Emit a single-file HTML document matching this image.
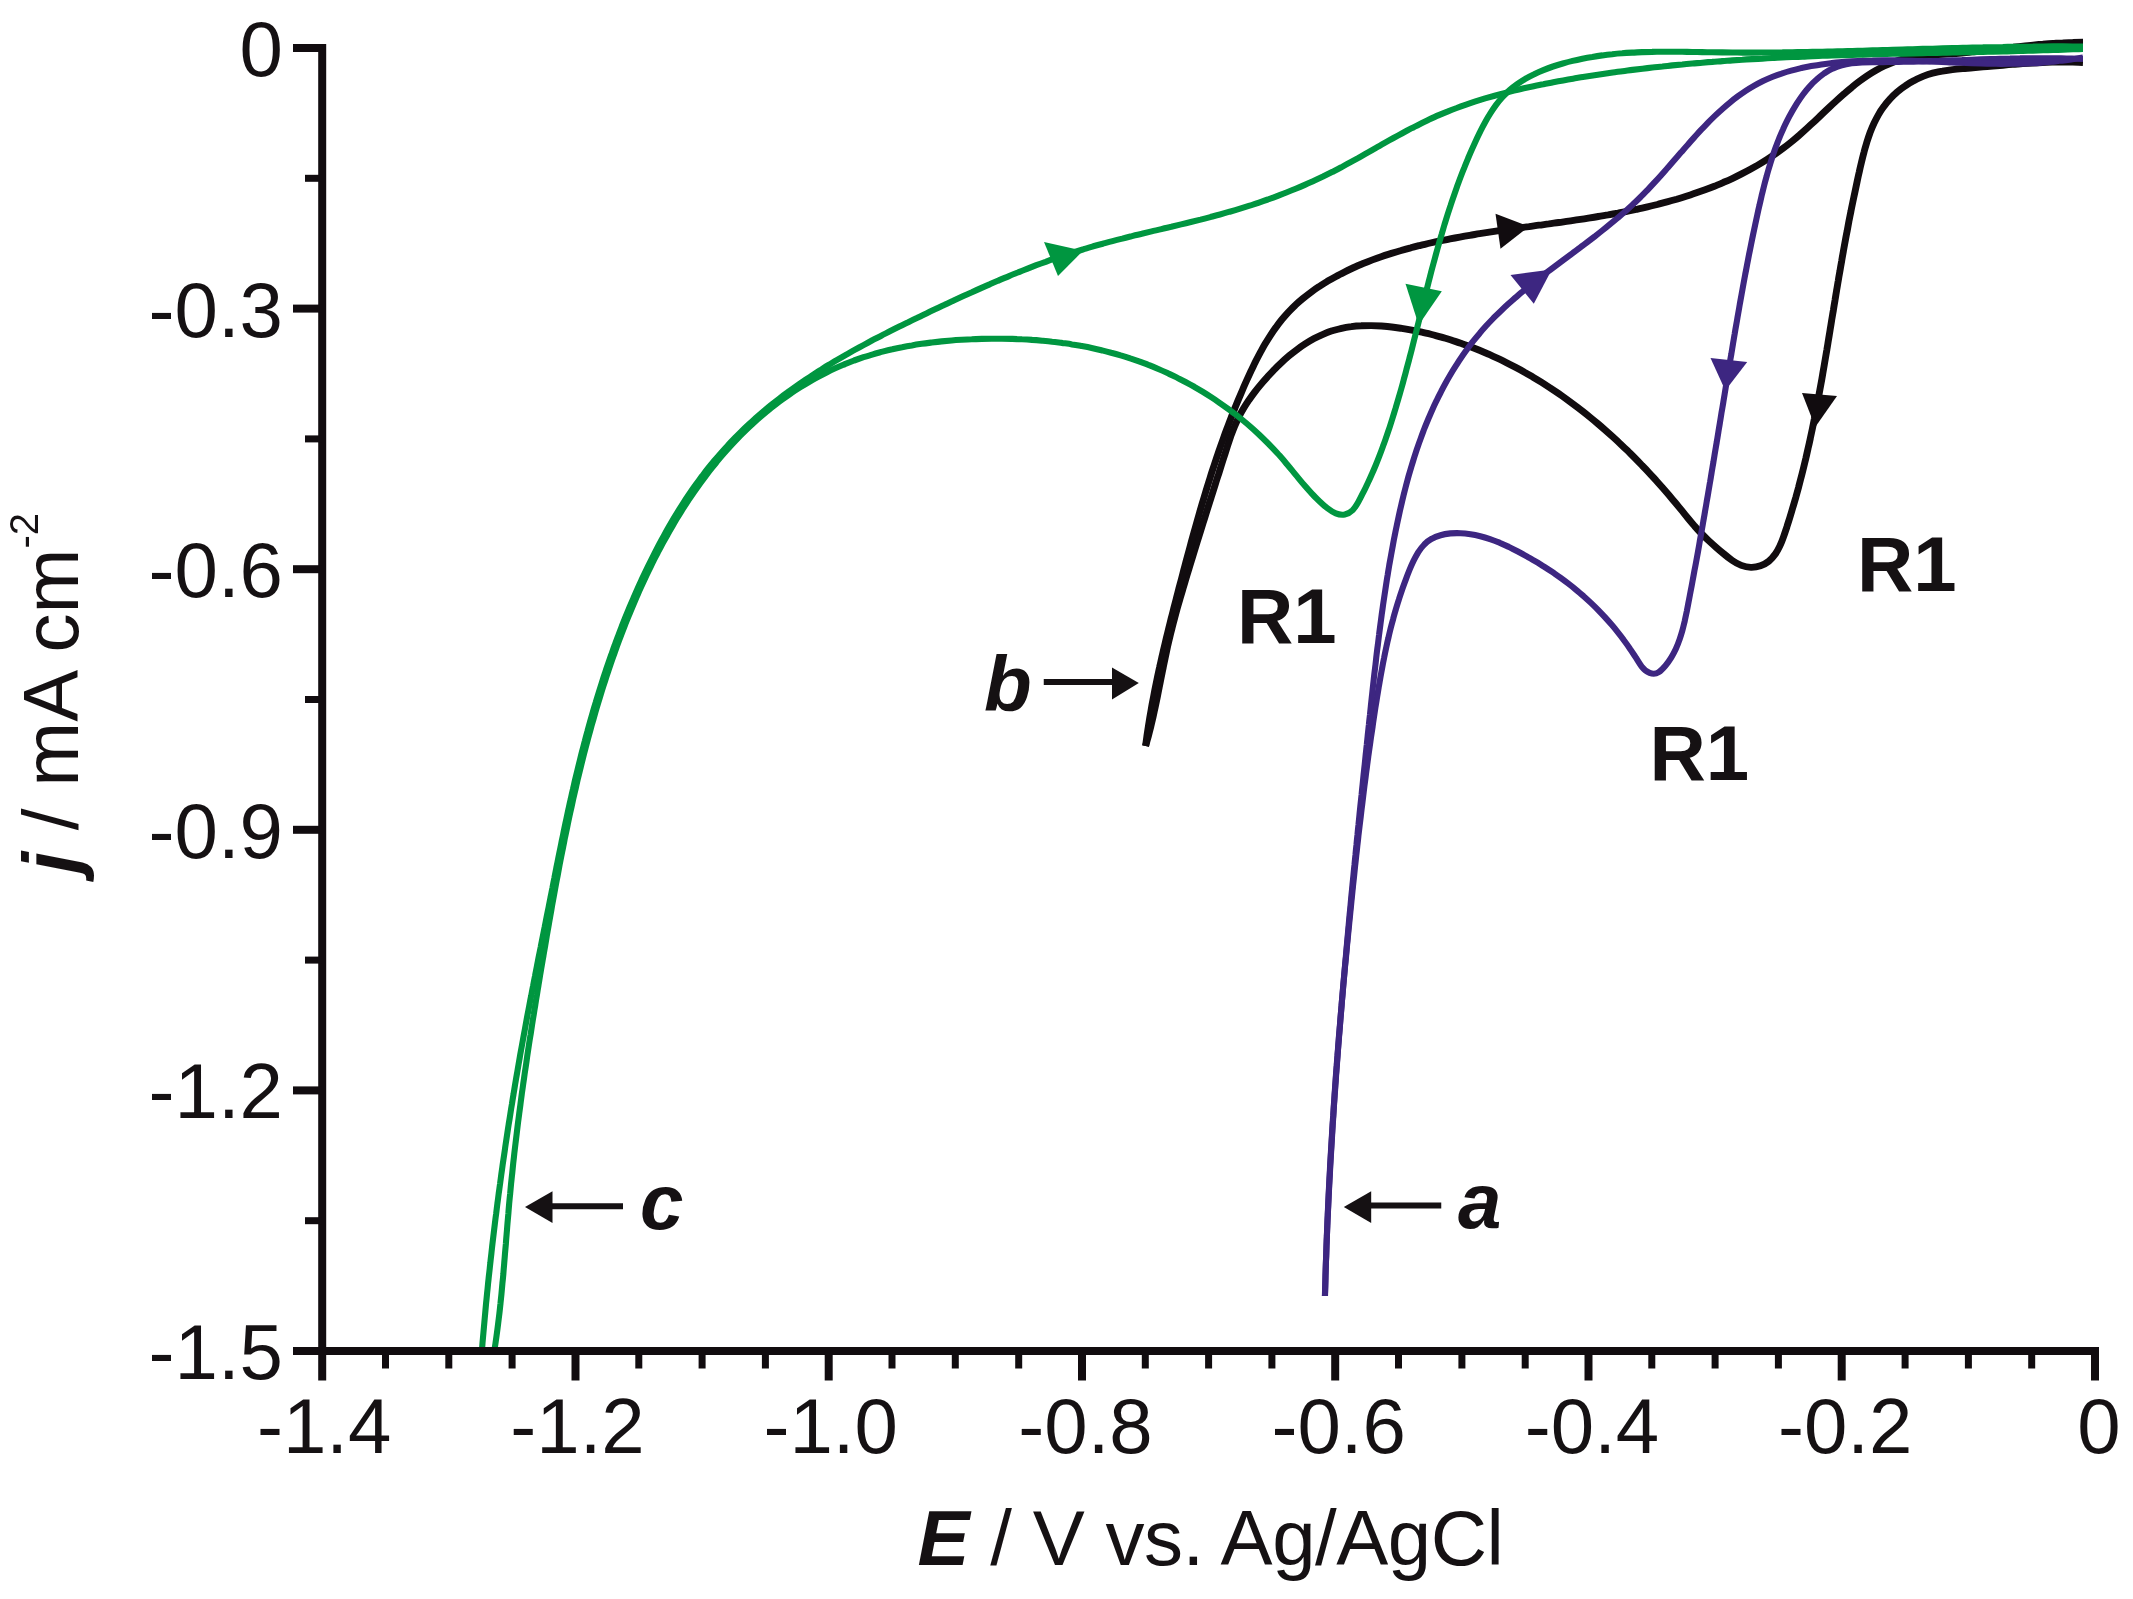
<!DOCTYPE html>
<html lang="en"><head><meta charset="utf-8"><title>Cyclic voltammograms</title>
<style>html,body{margin:0;padding:0;background:#fff}body{width:2133px;height:1599px;overflow:hidden}svg{display:block;filter:blur(0.7px)}text{font-family:"Liberation Sans",Arial,Helvetica,sans-serif;fill:#151113}.t{font-size:78px}.bi{font-weight:bold;font-style:italic}.b{font-weight:bold}</style></head><body>
<svg width="2133" height="1599" viewBox="0 0 2133 1599">
<rect width="2133" height="1599" fill="#fff"/>
<defs><clipPath id="cp"><rect x="322" y="0" width="1761" height="1351"/></clipPath></defs>
<g clip-path="url(#cp)">
<path d="M2083.0 62.5C2079.5 62.3 2076.1 62.2 2072.7 62.1C2069.3 62.0 2065.9 62.0 2062.5 62.0C2059.1 62.0 2055.8 62.0 2052.4 62.1C2049.1 62.2 2045.7 62.3 2042.4 62.5C2039.1 62.6 2035.8 62.8 2032.5 63.0C2029.2 63.2 2025.9 63.4 2022.6 63.6C2019.3 63.9 2016.0 64.1 2012.7 64.4C2009.4 64.6 2006.1 64.9 2002.8 65.2C1999.5 65.5 1996.2 65.8 1992.9 66.1C1989.6 66.4 1986.2 66.7 1982.9 66.9C1979.6 67.2 1976.2 67.5 1972.8 67.8C1969.5 68.1 1966.1 68.3 1962.7 68.6C1959.3 68.9 1955.9 69.2 1952.5 69.6C1949.1 70.0 1945.8 70.5 1942.4 71.1C1939.1 71.6 1935.8 72.4 1932.6 73.2C1929.3 74.1 1926.1 75.2 1923.0 76.4C1919.9 77.7 1916.8 79.1 1913.9 80.7C1910.9 82.2 1908.0 84.0 1905.3 85.9C1902.5 87.7 1899.8 89.8 1897.3 91.9C1894.8 94.1 1892.4 96.4 1890.1 98.8C1887.9 101.2 1885.8 103.7 1883.9 106.4C1881.9 109.0 1880.1 111.7 1878.5 114.6C1876.9 117.4 1875.4 120.3 1874.0 123.3C1872.6 126.3 1871.3 129.4 1870.1 132.5C1869.0 135.6 1867.9 138.8 1866.9 142.0C1865.9 145.3 1864.9 148.5 1864.1 151.8C1863.2 155.1 1862.4 158.4 1861.6 161.8C1860.8 165.1 1860.0 168.4 1859.3 171.8C1858.5 175.1 1857.8 178.4 1857.1 181.8C1856.4 185.1 1855.7 188.4 1855.0 191.7C1854.3 195.0 1853.6 198.3 1852.9 201.6C1852.2 204.9 1851.5 208.2 1850.9 211.5C1850.2 214.8 1849.6 218.1 1848.9 221.4C1848.3 224.7 1847.7 228.0 1847.1 231.3C1846.4 234.6 1845.8 237.9 1845.2 241.1C1844.6 244.4 1844.0 247.7 1843.4 251.0C1842.8 254.3 1842.2 257.6 1841.7 260.8C1841.1 264.1 1840.5 267.4 1840.0 270.7C1839.4 274.0 1838.8 277.3 1838.3 280.5C1837.7 283.8 1837.2 287.1 1836.6 290.4C1836.1 293.7 1835.5 297.0 1835.0 300.3C1834.4 303.6 1833.9 306.8 1833.4 310.1C1832.8 313.4 1832.3 316.7 1831.7 320.0C1831.2 323.3 1830.7 326.6 1830.1 329.9C1829.6 333.2 1829.0 336.5 1828.5 339.8C1828.0 343.0 1827.4 346.3 1826.9 349.6C1826.3 352.9 1825.8 356.2 1825.2 359.5C1824.6 362.8 1824.1 366.1 1823.5 369.4C1822.9 372.7 1822.4 376.0 1821.8 379.3C1821.2 382.5 1820.6 385.8 1820.0 389.1C1819.4 392.4 1818.8 395.7 1818.2 399.0C1817.6 402.3 1817.0 405.6 1816.3 408.9C1815.7 412.2 1815.0 415.4 1814.4 418.7C1813.7 422.0 1813.1 425.3 1812.4 428.6C1811.7 431.9 1811.0 435.2 1810.3 438.4C1809.6 441.7 1808.9 445.0 1808.1 448.3C1807.4 451.6 1806.6 454.9 1805.9 458.1C1805.1 461.4 1804.3 464.7 1803.5 468.0C1802.7 471.3 1801.9 474.5 1801.0 477.8C1800.2 481.1 1799.3 484.4 1798.5 487.6C1797.6 490.9 1796.7 494.2 1795.8 497.4C1794.8 500.7 1793.9 504.0 1792.9 507.2C1792.0 510.5 1791.0 513.8 1790.0 517.0C1789.0 520.3 1787.9 523.5 1786.9 526.8C1785.8 530.1 1784.8 533.3 1783.6 536.6C1782.5 539.8 1781.3 542.9 1779.9 545.9C1778.5 548.9 1777.0 551.8 1775.1 554.3C1773.3 556.9 1771.3 559.2 1768.8 561.2C1766.4 563.1 1763.6 564.7 1760.5 565.8C1757.5 566.9 1754.2 567.5 1750.9 567.4C1747.6 567.3 1744.4 566.6 1741.3 565.4C1738.2 564.2 1735.2 562.5 1732.3 560.5C1729.5 558.5 1726.7 556.3 1724.0 554.0C1721.3 551.8 1718.7 549.6 1716.1 547.3C1713.5 545.1 1711.0 542.8 1708.5 540.5C1706.1 538.3 1703.7 535.9 1701.4 533.5C1699.1 531.1 1696.8 528.6 1694.6 526.1C1692.5 523.6 1690.3 521.1 1688.2 518.5C1686.1 515.9 1684.0 513.3 1681.9 510.7C1679.8 508.1 1677.7 505.6 1675.6 503.0C1673.4 500.4 1671.3 497.9 1669.1 495.3C1667.0 492.8 1664.8 490.2 1662.6 487.7C1660.3 485.2 1658.1 482.7 1655.9 480.2C1653.6 477.7 1651.4 475.2 1649.1 472.8C1646.8 470.3 1644.5 467.9 1642.1 465.5C1639.8 463.0 1637.5 460.6 1635.1 458.2C1632.7 455.9 1630.4 453.5 1628.0 451.1C1625.6 448.8 1623.1 446.5 1620.7 444.2C1618.3 441.9 1615.8 439.6 1613.3 437.3C1610.8 435.0 1608.3 432.8 1605.8 430.6C1603.3 428.4 1600.8 426.2 1598.2 424.0C1595.6 421.8 1593.1 419.7 1590.5 417.6C1587.9 415.5 1585.3 413.4 1582.6 411.3C1580.0 409.2 1577.3 407.2 1574.7 405.2C1572.0 403.2 1569.3 401.2 1566.6 399.2C1563.9 397.3 1561.1 395.3 1558.4 393.4C1555.6 391.5 1552.9 389.7 1550.1 387.8C1547.3 386.0 1544.5 384.2 1541.7 382.4C1538.8 380.6 1536.0 378.9 1533.1 377.2C1530.2 375.5 1527.4 373.8 1524.5 372.2C1521.6 370.5 1518.6 368.9 1515.7 367.4C1512.7 365.8 1509.8 364.3 1506.8 362.8C1503.8 361.3 1500.8 359.8 1497.8 358.4C1494.8 357.0 1491.7 355.6 1488.7 354.2C1485.6 352.9 1482.5 351.6 1479.4 350.3C1476.4 349.0 1473.2 347.8 1470.1 346.6C1467.0 345.4 1463.8 344.3 1460.7 343.2C1457.5 342.1 1454.3 341.1 1451.1 340.0C1447.9 339.0 1444.7 338.1 1441.4 337.1C1438.2 336.2 1434.9 335.4 1431.7 334.5C1428.4 333.7 1425.1 332.9 1421.8 332.2C1418.5 331.5 1415.1 330.8 1411.8 330.1C1408.5 329.5 1405.1 328.9 1401.7 328.4C1398.3 327.9 1395.0 327.4 1391.6 327.0C1388.2 326.6 1384.8 326.3 1381.4 326.0C1378.0 325.8 1374.6 325.6 1371.3 325.6C1367.9 325.6 1364.6 325.6 1361.2 325.8C1357.9 325.9 1354.6 326.2 1351.3 326.7C1348.1 327.1 1344.8 327.6 1341.6 328.3C1338.4 329.0 1335.3 329.9 1332.1 330.8C1329.0 331.8 1326.0 333.0 1323.0 334.3C1319.9 335.6 1317.0 337.0 1314.1 338.6C1311.2 340.2 1308.3 341.9 1305.5 343.7C1302.7 345.5 1299.9 347.4 1297.2 349.4C1294.5 351.4 1291.8 353.5 1289.2 355.7C1286.6 357.9 1284.1 360.1 1281.6 362.5C1279.1 364.8 1276.6 367.2 1274.3 369.6C1271.9 372.1 1269.5 374.5 1267.3 377.1C1265.0 379.6 1262.8 382.2 1260.6 384.7C1258.4 387.3 1256.3 389.9 1254.3 392.6C1252.3 395.3 1250.3 398.0 1248.5 400.7C1246.6 403.5 1244.9 406.2 1243.2 409.1C1241.5 411.9 1239.9 414.8 1238.5 417.8C1237.0 420.7 1235.7 423.8 1234.4 426.8C1233.1 429.9 1232.0 433.0 1230.8 436.1C1229.7 439.3 1228.7 442.4 1227.6 445.6C1226.6 448.8 1225.6 452.0 1224.6 455.2C1223.5 458.4 1222.5 461.6 1221.5 464.8C1220.5 468.0 1219.5 471.2 1218.5 474.4C1217.4 477.5 1216.4 480.7 1215.4 483.9C1214.4 487.1 1213.4 490.3 1212.4 493.5C1211.4 496.7 1210.3 499.9 1209.3 503.1C1208.3 506.3 1207.3 509.5 1206.3 512.7C1205.3 515.9 1204.3 519.1 1203.3 522.3C1202.3 525.5 1201.3 528.7 1200.3 531.9C1199.3 535.1 1198.3 538.3 1197.3 541.5C1196.3 544.7 1195.3 547.9 1194.3 551.1C1193.3 554.3 1192.4 557.5 1191.4 560.7C1190.4 563.9 1189.4 567.1 1188.5 570.3C1187.5 573.5 1186.5 576.7 1185.6 579.9C1184.6 583.2 1183.6 586.4 1182.7 589.6C1181.7 592.8 1180.8 596.0 1179.9 599.2C1178.9 602.4 1178.0 605.7 1177.1 608.9C1176.2 612.1 1175.4 615.3 1174.5 618.6C1173.6 621.8 1172.8 625.0 1172.0 628.3C1171.1 631.5 1170.3 634.8 1169.6 638.0C1168.8 641.3 1168.0 644.6 1167.3 647.8C1166.6 651.1 1165.9 654.4 1165.2 657.7C1164.5 660.9 1163.8 664.2 1163.2 667.5C1162.5 670.8 1161.9 674.1 1161.2 677.4C1160.5 680.7 1159.9 684.0 1159.2 687.3C1158.6 690.5 1157.9 693.8 1157.3 697.1C1156.6 700.4 1155.9 703.7 1155.2 707.0C1154.5 710.3 1153.8 713.5 1153.1 716.8C1152.3 720.1 1151.5 723.3 1150.8 726.6C1150.0 729.8 1149.1 733.1 1148.3 736.3C1147.4 739.5 1146.5 742.8 1145.6 746.0" fill="none" stroke="#110c0f" stroke-width="6.9" stroke-linejoin="round"/>
<path d="M1145.6 746.0C1146.0 742.7 1146.5 739.4 1146.9 736.1C1147.4 732.8 1147.9 729.5 1148.4 726.2C1148.9 722.9 1149.5 719.6 1150.0 716.3C1150.6 713.1 1151.2 709.8 1151.7 706.5C1152.3 703.2 1153.0 699.9 1153.6 696.7C1154.2 693.4 1154.8 690.1 1155.5 686.8C1156.2 683.6 1156.8 680.3 1157.5 677.0C1158.2 673.8 1158.9 670.5 1159.6 667.2C1160.4 664.0 1161.1 660.7 1161.8 657.4C1162.6 654.2 1163.3 650.9 1164.1 647.7C1164.9 644.4 1165.6 641.2 1166.4 637.9C1167.2 634.7 1168.0 631.4 1168.8 628.2C1169.6 624.9 1170.4 621.7 1171.2 618.4C1172.1 615.2 1172.9 611.9 1173.7 608.7C1174.5 605.5 1175.4 602.2 1176.2 599.0C1177.0 595.7 1177.9 592.5 1178.7 589.3C1179.6 586.1 1180.4 582.8 1181.3 579.6C1182.1 576.4 1183.0 573.1 1183.8 569.9C1184.7 566.7 1185.5 563.5 1186.4 560.2C1187.3 557.0 1188.1 553.8 1189.0 550.6C1189.9 547.4 1190.7 544.2 1191.6 540.9C1192.5 537.7 1193.4 534.5 1194.3 531.3C1195.2 528.1 1196.1 524.9 1197.0 521.7C1197.9 518.5 1198.8 515.3 1199.7 512.1C1200.7 508.9 1201.6 505.7 1202.5 502.5C1203.5 499.4 1204.4 496.2 1205.4 493.0C1206.4 489.8 1207.3 486.6 1208.3 483.5C1209.3 480.3 1210.3 477.1 1211.3 473.9C1212.3 470.8 1213.4 467.6 1214.4 464.5C1215.5 461.3 1216.5 458.1 1217.6 455.0C1218.7 451.8 1219.7 448.7 1220.8 445.6C1222.0 442.4 1223.1 439.3 1224.2 436.1C1225.3 433.0 1226.5 429.9 1227.7 426.7C1228.8 423.6 1230.0 420.5 1231.2 417.4C1232.5 414.3 1233.7 411.2 1234.9 408.0C1236.2 404.9 1237.5 401.8 1238.8 398.7C1240.1 395.6 1241.4 392.6 1242.7 389.5C1244.0 386.4 1245.4 383.3 1246.8 380.2C1248.2 377.2 1249.6 374.1 1251.0 371.0C1252.5 368.0 1253.9 364.9 1255.4 361.9C1256.9 358.9 1258.5 355.9 1260.1 352.9C1261.7 350.0 1263.3 347.0 1265.0 344.1C1266.7 341.3 1268.5 338.4 1270.3 335.6C1272.1 332.8 1273.9 330.1 1275.9 327.4C1277.8 324.7 1279.8 322.1 1281.9 319.5C1284.0 317.0 1286.2 314.5 1288.4 312.1C1290.7 309.7 1293.0 307.3 1295.4 305.1C1297.8 302.8 1300.3 300.6 1302.9 298.5C1305.4 296.4 1308.0 294.4 1310.7 292.4C1313.4 290.4 1316.1 288.5 1318.9 286.7C1321.6 284.8 1324.5 283.1 1327.3 281.3C1330.2 279.6 1333.1 278.0 1336.0 276.4C1338.9 274.8 1341.9 273.3 1344.9 271.8C1347.9 270.3 1350.9 268.9 1353.9 267.5C1356.9 266.1 1360.0 264.8 1363.1 263.5C1366.2 262.3 1369.3 261.1 1372.4 259.9C1375.6 258.7 1378.7 257.6 1381.9 256.5C1385.0 255.4 1388.2 254.4 1391.4 253.4C1394.6 252.4 1397.8 251.4 1401.1 250.5C1404.3 249.5 1407.5 248.6 1410.8 247.8C1414.0 246.9 1417.3 246.1 1420.5 245.3C1423.8 244.5 1427.1 243.8 1430.3 243.0C1433.6 242.3 1436.9 241.6 1440.2 240.9C1443.4 240.2 1446.7 239.6 1450.0 238.9C1453.3 238.3 1456.5 237.7 1459.8 237.1C1463.1 236.5 1466.4 235.9 1469.7 235.3C1473.0 234.8 1476.3 234.2 1479.6 233.7C1482.8 233.2 1486.1 232.7 1489.4 232.2C1492.7 231.7 1496.0 231.2 1499.3 230.7C1502.6 230.2 1505.9 229.7 1509.2 229.3C1512.5 228.8 1515.8 228.4 1519.1 227.9C1522.4 227.4 1525.7 227.0 1529.0 226.6C1532.3 226.1 1535.6 225.7 1538.9 225.2C1542.2 224.8 1545.5 224.3 1548.8 223.9C1552.1 223.4 1555.4 223.0 1558.7 222.5C1562.0 222.0 1565.3 221.6 1568.6 221.1C1571.9 220.6 1575.2 220.2 1578.5 219.7C1581.8 219.2 1585.1 218.7 1588.4 218.1C1591.7 217.6 1595.0 217.1 1598.3 216.5C1601.6 216.0 1604.9 215.4 1608.1 214.9C1611.4 214.3 1614.7 213.7 1618.0 213.1C1621.3 212.4 1624.6 211.8 1627.9 211.1C1631.2 210.5 1634.4 209.8 1637.7 209.1C1641.0 208.3 1644.3 207.6 1647.5 206.8C1650.8 206.1 1654.1 205.3 1657.3 204.5C1660.5 203.6 1663.8 202.8 1667.0 201.9C1670.2 201.0 1673.5 200.1 1676.7 199.2C1679.9 198.2 1683.1 197.3 1686.2 196.3C1689.4 195.2 1692.6 194.2 1695.7 193.1C1698.9 192.0 1702.0 190.9 1705.1 189.8C1708.3 188.6 1711.4 187.4 1714.4 186.2C1717.5 184.9 1720.6 183.7 1723.6 182.3C1726.7 181.0 1729.7 179.7 1732.7 178.3C1735.7 176.9 1738.7 175.4 1741.6 173.9C1744.6 172.4 1747.5 170.9 1750.4 169.3C1753.3 167.7 1756.2 166.1 1759.0 164.4C1761.9 162.7 1764.7 160.9 1767.5 159.1C1770.2 157.4 1773.0 155.5 1775.7 153.6C1778.5 151.7 1781.2 149.8 1783.8 147.8C1786.5 145.8 1789.1 143.7 1791.7 141.6C1794.3 139.5 1796.9 137.3 1799.4 135.1C1802.0 132.8 1804.5 130.6 1807.0 128.3C1809.5 126.0 1811.9 123.7 1814.4 121.4C1816.9 119.1 1819.3 116.7 1821.8 114.4C1824.3 112.0 1826.7 109.7 1829.2 107.4C1831.6 105.1 1834.1 102.8 1836.6 100.5C1839.0 98.2 1841.5 96.0 1844.0 93.8C1846.6 91.6 1849.1 89.4 1851.7 87.4C1854.2 85.3 1856.8 83.2 1859.4 81.3C1862.1 79.3 1864.7 77.4 1867.4 75.6C1870.1 73.8 1872.9 72.1 1875.7 70.5C1878.5 68.9 1881.4 67.4 1884.3 66.0C1887.2 64.6 1890.2 63.3 1893.2 62.2C1896.2 61.0 1899.3 60.0 1902.5 59.2C1905.7 58.3 1909.0 57.6 1912.3 57.0C1915.7 56.4 1919.1 56.0 1922.5 55.6C1925.9 55.3 1929.4 55.0 1932.9 54.8C1936.4 54.6 1939.9 54.4 1943.4 54.2C1946.9 54.0 1950.4 53.8 1953.8 53.6C1957.2 53.3 1960.6 53.1 1964.0 52.8C1967.3 52.4 1970.6 52.1 1973.9 51.7C1977.3 51.4 1980.6 51.0 1983.8 50.6C1987.1 50.2 1990.4 49.9 1993.6 49.5C1996.9 49.1 2000.2 48.7 2003.4 48.3C2006.7 47.9 2010.0 47.5 2013.3 47.2C2016.5 46.8 2019.8 46.5 2023.1 46.1C2026.4 45.8 2029.7 45.4 2033.0 45.1C2036.3 44.8 2039.6 44.5 2042.9 44.3C2046.2 44.0 2049.5 43.7 2052.8 43.5C2056.1 43.3 2059.5 43.0 2062.8 42.9C2066.2 42.7 2069.5 42.5 2072.9 42.4C2076.3 42.2 2079.7 42.1 2083.1 42.1" fill="none" stroke="#110c0f" stroke-width="6.9" stroke-linejoin="round"/>
<path d="M2083.0 59.0C2079.3 58.9 2075.6 58.7 2071.9 58.6C2068.3 58.5 2064.7 58.5 2061.1 58.4C2057.5 58.3 2054.0 58.3 2050.5 58.3C2047.0 58.2 2043.6 58.2 2040.2 58.2C2036.8 58.2 2033.4 58.2 2030.0 58.3C2026.7 58.3 2023.3 58.3 2020.0 58.4C2016.7 58.4 2013.4 58.5 2010.1 58.6C2006.9 58.6 2003.6 58.7 2000.4 58.8C1997.2 58.9 1993.9 59.0 1990.7 59.1C1987.5 59.2 1984.3 59.3 1981.1 59.4C1978.0 59.5 1974.8 59.6 1971.6 59.7C1968.4 59.8 1965.2 59.9 1962.0 60.1C1958.9 60.2 1955.7 60.3 1952.5 60.4C1949.3 60.5 1946.1 60.6 1942.9 60.7C1939.7 60.9 1936.5 61.0 1933.2 61.1C1930.0 61.2 1926.8 61.3 1923.5 61.4C1920.2 61.5 1916.9 61.5 1913.6 61.6C1910.3 61.7 1907.0 61.8 1903.6 61.8C1900.3 61.9 1896.9 61.9 1893.5 62.0C1890.1 62.0 1886.6 62.1 1883.1 62.1C1879.6 62.1 1876.1 62.1 1872.6 62.1C1869.0 62.1 1865.5 62.2 1862.0 62.4C1858.5 62.6 1855.0 62.8 1851.6 63.3C1848.3 63.8 1845.0 64.4 1841.8 65.3C1838.6 66.1 1835.6 67.3 1832.6 68.6C1829.7 70.0 1826.9 71.6 1824.2 73.4C1821.6 75.3 1819.0 77.3 1816.6 79.5C1814.1 81.6 1811.8 84.0 1809.6 86.5C1807.4 88.9 1805.2 91.5 1803.2 94.2C1801.2 96.9 1799.3 99.7 1797.4 102.6C1795.6 105.5 1793.8 108.4 1792.2 111.3C1790.5 114.3 1788.9 117.2 1787.4 120.2C1785.9 123.2 1784.4 126.2 1783.1 129.3C1781.7 132.3 1780.4 135.4 1779.1 138.5C1777.9 141.6 1776.7 144.7 1775.5 147.8C1774.4 150.9 1773.3 154.1 1772.3 157.2C1771.2 160.4 1770.3 163.6 1769.3 166.8C1768.4 170.0 1767.4 173.2 1766.6 176.4C1765.7 179.6 1764.8 182.8 1764.0 186.1C1763.2 189.3 1762.4 192.6 1761.6 195.8C1760.9 199.1 1760.1 202.3 1759.4 205.6C1758.6 208.8 1757.9 212.1 1757.2 215.4C1756.5 218.6 1755.8 221.9 1755.1 225.2C1754.4 228.5 1753.7 231.7 1753.0 235.0C1752.3 238.3 1751.7 241.6 1751.0 244.9C1750.3 248.2 1749.7 251.4 1749.0 254.7C1748.4 258.0 1747.8 261.3 1747.1 264.6C1746.5 267.9 1745.9 271.2 1745.2 274.5C1744.6 277.8 1744.0 281.1 1743.4 284.3C1742.8 287.6 1742.2 290.9 1741.6 294.2C1741.0 297.5 1740.4 300.8 1739.8 304.1C1739.3 307.4 1738.7 310.7 1738.1 314.0C1737.5 317.3 1737.0 320.6 1736.4 323.9C1735.8 327.2 1735.2 330.5 1734.7 333.8C1734.1 337.1 1733.6 340.4 1733.0 343.7C1732.5 347.0 1731.9 350.3 1731.4 353.6C1730.8 356.9 1730.2 360.2 1729.7 363.5C1729.2 366.8 1728.6 370.1 1728.1 373.4C1727.5 376.7 1727.0 379.9 1726.4 383.2C1725.9 386.5 1725.3 389.8 1724.8 393.1C1724.3 396.4 1723.7 399.7 1723.2 403.0C1722.6 406.3 1722.1 409.5 1721.5 412.8C1721.0 416.1 1720.5 419.4 1719.9 422.7C1719.4 426.0 1718.8 429.3 1718.3 432.5C1717.8 435.8 1717.2 439.1 1716.7 442.4C1716.1 445.7 1715.6 449.0 1715.0 452.3C1714.5 455.5 1713.9 458.8 1713.4 462.1C1712.8 465.4 1712.3 468.7 1711.7 472.0C1711.2 475.3 1710.6 478.6 1710.1 481.8C1709.5 485.1 1709.0 488.4 1708.4 491.7C1707.9 495.0 1707.3 498.3 1706.7 501.6C1706.2 504.9 1705.6 508.2 1705.0 511.5C1704.5 514.8 1703.9 518.1 1703.3 521.4C1702.8 524.6 1702.2 527.9 1701.6 531.2C1701.0 534.5 1700.4 537.8 1699.8 541.1C1699.3 544.4 1698.7 547.8 1698.1 551.1C1697.5 554.4 1696.9 557.7 1696.3 561.0C1695.7 564.3 1695.1 567.6 1694.4 570.9C1693.8 574.2 1693.2 577.5 1692.6 580.8C1692.0 584.2 1691.4 587.5 1690.7 590.8C1690.1 594.1 1689.5 597.4 1688.8 600.8C1688.2 604.1 1687.5 607.4 1686.9 610.8C1686.2 614.1 1685.5 617.4 1684.8 620.7C1684.0 624.0 1683.3 627.2 1682.4 630.4C1681.5 633.7 1680.5 636.8 1679.4 639.9C1678.4 643.0 1677.1 646.1 1675.8 649.0C1674.4 652.0 1672.9 654.8 1671.2 657.6C1669.5 660.3 1667.7 663.0 1665.6 665.5C1663.5 668.0 1661.2 670.6 1658.6 672.3C1655.9 674.0 1652.7 674.1 1649.6 672.9C1646.4 671.7 1643.8 669.3 1641.7 666.6C1639.5 663.8 1637.8 660.7 1635.9 657.7C1634.0 654.8 1632.1 651.8 1630.1 649.0C1628.2 646.1 1626.2 643.3 1624.1 640.5C1622.1 637.7 1620.0 635.0 1617.9 632.4C1615.8 629.7 1613.7 627.1 1611.5 624.6C1609.3 622.0 1607.1 619.5 1604.9 617.1C1602.6 614.6 1600.3 612.2 1598.0 609.8C1595.7 607.5 1593.3 605.2 1590.9 602.9C1588.5 600.6 1586.1 598.4 1583.6 596.2C1581.1 594.1 1578.6 591.9 1576.1 589.8C1573.6 587.7 1571.0 585.7 1568.4 583.7C1565.8 581.7 1563.1 579.7 1560.5 577.8C1557.8 575.8 1555.1 574.0 1552.4 572.1C1549.6 570.2 1546.8 568.4 1544.0 566.6C1541.2 564.9 1538.4 563.1 1535.5 561.4C1532.6 559.7 1529.7 558.0 1526.8 556.4C1523.8 554.7 1520.9 553.1 1517.9 551.5C1514.9 550.0 1511.8 548.4 1508.8 546.9C1505.7 545.5 1502.6 544.1 1499.5 542.7C1496.3 541.4 1493.2 540.2 1490.0 539.1C1486.8 538.0 1483.6 537.0 1480.3 536.2C1477.1 535.4 1473.8 534.7 1470.5 534.2C1467.2 533.7 1463.9 533.3 1460.6 533.2C1457.2 533.1 1453.8 533.1 1450.4 533.4C1447.1 533.8 1443.8 534.3 1440.6 535.2C1437.4 536.1 1434.4 537.2 1431.7 538.8C1428.9 540.3 1426.5 542.3 1424.3 544.5C1422.1 546.8 1420.1 549.3 1418.3 552.1C1416.6 554.9 1415.0 557.8 1413.5 560.9C1412.0 564.0 1410.6 567.2 1409.3 570.4C1408.0 573.6 1406.8 576.8 1405.6 580.1C1404.4 583.3 1403.2 586.5 1402.1 589.7C1401.0 592.9 1399.9 596.2 1398.9 599.4C1397.8 602.6 1396.9 605.9 1395.9 609.1C1395.0 612.3 1394.0 615.6 1393.2 618.8C1392.3 622.0 1391.4 625.3 1390.6 628.5C1389.8 631.8 1389.0 635.0 1388.3 638.3C1387.5 641.5 1386.8 644.8 1386.1 648.0C1385.4 651.3 1384.7 654.6 1384.1 657.8C1383.4 661.1 1382.8 664.3 1382.2 667.6C1381.6 670.9 1381.0 674.1 1380.4 677.4C1379.8 680.7 1379.3 684.0 1378.7 687.2C1378.2 690.5 1377.6 693.8 1377.1 697.1C1376.6 700.4 1376.1 703.7 1375.5 706.9C1375.0 710.2 1374.5 713.5 1374.0 716.8C1373.5 720.1 1373.0 723.4 1372.6 726.7C1372.1 730.0 1371.6 733.3 1371.1 736.6C1370.6 739.9 1370.2 743.2 1369.7 746.5C1369.2 749.8 1368.8 753.1 1368.3 756.4C1367.9 759.7 1367.4 763.0 1367.0 766.3C1366.6 769.6 1366.1 772.9 1365.7 776.3C1365.3 779.6 1364.8 782.9 1364.4 786.2C1364.0 789.5 1363.6 792.8 1363.2 796.2C1362.8 799.5 1362.4 802.8 1362.0 806.1C1361.5 809.4 1361.2 812.8 1360.8 816.1C1360.4 819.4 1360.0 822.7 1359.6 826.0C1359.2 829.4 1358.8 832.7 1358.4 836.0C1358.1 839.3 1357.7 842.7 1357.3 846.0C1357.0 849.3 1356.6 852.7 1356.2 856.0C1355.9 859.3 1355.5 862.6 1355.1 866.0C1354.8 869.3 1354.4 872.6 1354.1 876.0C1353.7 879.3 1353.4 882.6 1353.0 885.9C1352.7 889.3 1352.3 892.6 1352.0 895.9C1351.6 899.3 1351.3 902.6 1351.0 905.9C1350.6 909.3 1350.3 912.6 1350.0 915.9C1349.6 919.2 1349.3 922.6 1349.0 925.9C1348.6 929.2 1348.3 932.6 1348.0 935.9C1347.7 939.2 1347.3 942.5 1347.0 945.9C1346.7 949.2 1346.4 952.5 1346.1 955.9C1345.8 959.2 1345.4 962.5 1345.1 965.8C1344.8 969.2 1344.5 972.5 1344.2 975.8C1343.9 979.2 1343.6 982.5 1343.3 985.8C1343.0 989.1 1342.7 992.5 1342.4 995.8C1342.1 999.1 1341.8 1002.5 1341.6 1005.8C1341.3 1009.1 1341.0 1012.5 1340.7 1015.8C1340.4 1019.1 1340.1 1022.4 1339.9 1025.8C1339.6 1029.1 1339.3 1032.4 1339.0 1035.8C1338.8 1039.1 1338.5 1042.4 1338.2 1045.7C1338.0 1049.1 1337.7 1052.4 1337.5 1055.7C1337.2 1059.1 1336.9 1062.4 1336.7 1065.7C1336.4 1069.1 1336.2 1072.4 1335.9 1075.7C1335.7 1079.1 1335.5 1082.4 1335.2 1085.7C1335.0 1089.0 1334.7 1092.4 1334.5 1095.7C1334.3 1099.0 1334.1 1102.4 1333.8 1105.7C1333.6 1109.0 1333.4 1112.4 1333.2 1115.7C1332.9 1119.0 1332.7 1122.4 1332.5 1125.7C1332.3 1129.0 1332.1 1132.4 1331.9 1135.7C1331.7 1139.0 1331.5 1142.4 1331.3 1145.7C1331.1 1149.0 1330.9 1152.4 1330.7 1155.7C1330.5 1159.0 1330.3 1162.4 1330.1 1165.7C1330.0 1169.1 1329.8 1172.4 1329.6 1175.7C1329.4 1179.1 1329.3 1182.4 1329.1 1185.7C1328.9 1189.1 1328.8 1192.4 1328.6 1195.7C1328.4 1199.1 1328.3 1202.4 1328.1 1205.8C1328.0 1209.1 1327.8 1212.4 1327.7 1215.8C1327.5 1219.1 1327.4 1222.5 1327.3 1225.8C1327.1 1229.1 1327.0 1232.5 1326.9 1235.8C1326.7 1239.2 1326.6 1242.5 1326.5 1245.9C1326.4 1249.2 1326.3 1252.5 1326.2 1255.9C1326.1 1259.2 1325.9 1262.6 1325.8 1265.9C1325.7 1269.3 1325.6 1272.6 1325.5 1275.9C1325.5 1279.3 1325.4 1282.6 1325.3 1286.0C1325.2 1289.3 1325.1 1292.7 1325.0 1296.0" fill="none" stroke="#3d2681" stroke-width="6.1" stroke-linejoin="round"/>
<path d="M1324.9 1296.0C1325.0 1292.7 1325.1 1289.3 1325.2 1285.9C1325.3 1282.6 1325.4 1279.2 1325.5 1275.9C1325.6 1272.5 1325.7 1269.2 1325.8 1265.8C1325.9 1262.5 1326.0 1259.1 1326.2 1255.8C1326.3 1252.4 1326.4 1249.1 1326.5 1245.7C1326.7 1242.4 1326.8 1239.0 1326.9 1235.7C1327.1 1232.3 1327.2 1229.0 1327.3 1225.6C1327.5 1222.3 1327.6 1218.9 1327.8 1215.6C1327.9 1212.2 1328.1 1208.9 1328.3 1205.5C1328.4 1202.2 1328.6 1198.8 1328.7 1195.5C1328.9 1192.1 1329.1 1188.8 1329.2 1185.4C1329.4 1182.1 1329.6 1178.7 1329.8 1175.4C1330.0 1172.0 1330.1 1168.7 1330.3 1165.3C1330.5 1162.0 1330.7 1158.6 1330.9 1155.3C1331.1 1151.9 1331.3 1148.6 1331.5 1145.2C1331.7 1141.9 1331.9 1138.6 1332.1 1135.2C1332.3 1131.9 1332.5 1128.5 1332.7 1125.2C1332.9 1121.8 1333.2 1118.5 1333.4 1115.1C1333.6 1111.8 1333.8 1108.4 1334.0 1105.1C1334.3 1101.8 1334.5 1098.4 1334.7 1095.1C1335.0 1091.7 1335.2 1088.4 1335.4 1085.0C1335.7 1081.7 1335.9 1078.4 1336.1 1075.0C1336.4 1071.7 1336.6 1068.3 1336.9 1065.0C1337.1 1061.6 1337.4 1058.3 1337.6 1055.0C1337.9 1051.6 1338.1 1048.3 1338.4 1044.9C1338.7 1041.6 1338.9 1038.2 1339.2 1034.9C1339.5 1031.6 1339.7 1028.2 1340.0 1024.9C1340.3 1021.5 1340.5 1018.2 1340.8 1014.9C1341.1 1011.5 1341.3 1008.2 1341.6 1004.8C1341.9 1001.5 1342.2 998.1 1342.5 994.8C1342.8 991.5 1343.0 988.1 1343.3 984.8C1343.6 981.4 1343.9 978.1 1344.2 974.8C1344.5 971.4 1344.8 968.1 1345.1 964.7C1345.4 961.4 1345.7 958.1 1346.0 954.7C1346.3 951.4 1346.6 948.0 1346.9 944.7C1347.2 941.4 1347.5 938.0 1347.8 934.7C1348.1 931.4 1348.4 928.0 1348.7 924.7C1349.0 921.3 1349.3 918.0 1349.6 914.7C1350.0 911.3 1350.3 908.0 1350.6 904.6C1350.9 901.3 1351.2 898.0 1351.5 894.6C1351.9 891.3 1352.2 888.0 1352.5 884.6C1352.8 881.3 1353.2 877.9 1353.5 874.6C1353.8 871.3 1354.1 867.9 1354.5 864.6C1354.8 861.3 1355.1 857.9 1355.5 854.6C1355.8 851.2 1356.1 847.9 1356.5 844.6C1356.8 841.2 1357.1 837.9 1357.5 834.6C1357.8 831.2 1358.1 827.9 1358.5 824.6C1358.8 821.2 1359.2 817.9 1359.5 814.5C1359.8 811.2 1360.2 807.9 1360.5 804.5C1360.9 801.2 1361.2 797.9 1361.6 794.5C1361.9 791.2 1362.2 787.9 1362.6 784.5C1362.9 781.2 1363.3 777.8 1363.6 774.5C1364.0 771.2 1364.3 767.8 1364.7 764.5C1365.0 761.2 1365.4 757.8 1365.7 754.5C1366.1 751.2 1366.4 747.8 1366.8 744.5C1367.1 741.1 1367.5 737.8 1367.8 734.5C1368.2 731.1 1368.5 727.8 1368.9 724.5C1369.2 721.1 1369.6 717.8 1370.0 714.5C1370.3 711.1 1370.7 707.8 1371.0 704.5C1371.4 701.1 1371.7 697.8 1372.1 694.5C1372.5 691.1 1372.8 687.8 1373.2 684.4C1373.6 681.1 1373.9 677.8 1374.3 674.4C1374.7 671.1 1375.1 667.8 1375.5 664.5C1375.9 661.1 1376.2 657.8 1376.6 654.5C1377.0 651.1 1377.4 647.8 1377.9 644.5C1378.3 641.1 1378.7 637.8 1379.1 634.5C1379.5 631.2 1380.0 627.8 1380.4 624.5C1380.8 621.2 1381.3 617.9 1381.7 614.6C1382.2 611.2 1382.7 607.9 1383.1 604.6C1383.6 601.3 1384.1 598.0 1384.6 594.6C1385.1 591.3 1385.6 588.0 1386.1 584.7C1386.6 581.4 1387.1 578.1 1387.7 574.8C1388.2 571.5 1388.8 568.2 1389.3 564.9C1389.9 561.6 1390.5 558.3 1391.1 555.0C1391.7 551.7 1392.3 548.4 1392.9 545.1C1393.5 541.8 1394.1 538.5 1394.8 535.2C1395.4 531.9 1396.1 528.6 1396.8 525.3C1397.5 522.0 1398.2 518.8 1398.9 515.5C1399.6 512.2 1400.3 508.9 1401.1 505.7C1401.9 502.4 1402.6 499.1 1403.4 495.9C1404.2 492.6 1405.1 489.4 1405.9 486.1C1406.8 482.9 1407.6 479.7 1408.5 476.4C1409.4 473.2 1410.4 470.0 1411.3 466.8C1412.3 463.6 1413.3 460.4 1414.3 457.2C1415.3 454.0 1416.3 450.8 1417.4 447.7C1418.5 444.5 1419.6 441.4 1420.8 438.2C1421.9 435.1 1423.1 432.0 1424.3 428.8C1425.5 425.7 1426.8 422.6 1428.1 419.5C1429.4 416.5 1430.7 413.4 1432.1 410.3C1433.4 407.3 1434.8 404.2 1436.3 401.2C1437.7 398.2 1439.2 395.2 1440.8 392.2C1442.3 389.2 1443.9 386.2 1445.5 383.3C1447.1 380.3 1448.8 377.4 1450.5 374.5C1452.2 371.6 1454.0 368.7 1455.8 365.9C1457.6 363.1 1459.4 360.2 1461.3 357.5C1463.2 354.7 1465.2 351.9 1467.1 349.2C1469.1 346.5 1471.1 343.8 1473.2 341.2C1475.3 338.5 1477.4 335.9 1479.6 333.4C1481.7 330.8 1483.9 328.3 1486.2 325.8C1488.5 323.3 1490.8 320.9 1493.1 318.5C1495.5 316.1 1497.8 313.7 1500.3 311.4C1502.7 309.1 1505.1 306.8 1507.6 304.5C1510.1 302.3 1512.6 300.1 1515.1 297.9C1517.7 295.7 1520.2 293.5 1522.8 291.4C1525.4 289.2 1528.0 287.1 1530.6 285.0C1533.2 283.0 1535.8 280.9 1538.5 278.8C1541.1 276.8 1543.8 274.7 1546.4 272.7C1549.1 270.7 1551.7 268.7 1554.4 266.7C1557.1 264.7 1559.7 262.7 1562.4 260.7C1565.1 258.7 1567.8 256.7 1570.5 254.7C1573.1 252.7 1575.8 250.7 1578.5 248.7C1581.1 246.7 1583.8 244.7 1586.5 242.7C1589.1 240.7 1591.8 238.7 1594.4 236.7C1597.1 234.6 1599.7 232.6 1602.3 230.5C1604.9 228.4 1607.5 226.3 1610.1 224.2C1612.7 222.1 1615.3 220.0 1617.8 217.8C1620.3 215.7 1622.9 213.5 1625.4 211.3C1627.9 209.1 1630.3 206.8 1632.8 204.5C1635.2 202.2 1637.7 199.9 1640.1 197.5C1642.5 195.2 1644.8 192.8 1647.2 190.3C1649.5 187.9 1651.8 185.4 1654.1 182.9C1656.4 180.4 1658.7 177.9 1660.9 175.4C1663.2 172.9 1665.4 170.3 1667.7 167.7C1669.9 165.2 1672.2 162.6 1674.4 160.0C1676.6 157.5 1678.8 154.9 1681.1 152.3C1683.3 149.8 1685.5 147.2 1687.8 144.7C1690.0 142.1 1692.2 139.6 1694.5 137.1C1696.8 134.6 1699.0 132.1 1701.3 129.7C1703.6 127.2 1706.0 124.8 1708.3 122.4C1710.6 120.0 1713.0 117.7 1715.4 115.4C1717.8 113.1 1720.2 110.9 1722.7 108.7C1725.1 106.5 1727.6 104.4 1730.2 102.3C1732.7 100.2 1735.3 98.2 1737.9 96.3C1740.5 94.4 1743.2 92.5 1745.9 90.7C1748.7 88.9 1751.5 87.2 1754.3 85.6C1757.1 84.0 1760.0 82.5 1763.0 81.0C1766.0 79.6 1769.0 78.3 1772.1 77.0C1775.1 75.8 1778.3 74.6 1781.5 73.6C1784.7 72.5 1787.9 71.5 1791.2 70.6C1794.5 69.7 1797.8 68.9 1801.1 68.1C1804.5 67.4 1807.8 66.7 1811.2 66.1C1814.6 65.5 1818.0 64.9 1821.4 64.4C1824.8 63.9 1828.3 63.5 1831.7 63.1C1835.1 62.7 1838.5 62.4 1841.9 62.1C1845.3 61.8 1848.7 61.5 1852.1 61.3C1855.5 61.1 1858.9 60.9 1862.2 60.8C1865.6 60.6 1868.9 60.5 1872.3 60.5C1875.6 60.4 1879.0 60.3 1882.3 60.3C1885.6 60.3 1889.0 60.3 1892.3 60.3C1895.6 60.4 1898.9 60.4 1902.2 60.5C1905.5 60.6 1908.8 60.7 1912.1 60.8C1915.4 60.9 1918.7 61.0 1922.0 61.1C1925.3 61.2 1928.6 61.4 1931.9 61.5C1935.2 61.7 1938.5 61.8 1941.8 61.9C1945.1 62.1 1948.4 62.2 1951.7 62.4C1954.9 62.5 1958.2 62.7 1961.5 62.8C1964.8 63.0 1968.1 63.1 1971.4 63.2C1974.7 63.3 1978.0 63.4 1981.3 63.5C1984.6 63.6 1987.9 63.7 1991.3 63.7C1994.6 63.8 1997.9 63.8 2001.2 63.9C2004.6 63.9 2007.9 63.9 2011.2 63.8C2014.6 63.8 2017.9 63.7 2021.3 63.6C2024.7 63.5 2028.0 63.4 2031.4 63.2C2034.8 63.1 2038.2 62.9 2041.6 62.6C2045.0 62.4 2048.4 62.1 2051.8 61.8C2055.2 61.4 2058.7 61.1 2062.1 60.6C2065.6 60.2 2069.0 59.7 2072.5 59.2C2076.0 58.7 2079.5 58.1 2083.0 57.5" fill="none" stroke="#3d2681" stroke-width="6.1" stroke-linejoin="round"/>
<path d="M2083.0 46.6C2079.7 46.5 2076.3 46.5 2073.0 46.5C2069.6 46.5 2066.3 46.5 2063.0 46.4C2059.6 46.4 2056.3 46.4 2052.9 46.4C2049.6 46.5 2046.2 46.5 2042.9 46.5C2039.6 46.5 2036.2 46.5 2032.9 46.6C2029.5 46.6 2026.2 46.6 2022.9 46.7C2019.5 46.7 2016.2 46.8 2012.8 46.8C2009.5 46.9 2006.2 46.9 2002.8 47.0C1999.5 47.0 1996.1 47.1 1992.8 47.2C1989.5 47.2 1986.1 47.3 1982.8 47.4C1979.4 47.4 1976.1 47.5 1972.8 47.6C1969.4 47.7 1966.1 47.8 1962.8 47.8C1959.4 47.9 1956.1 48.0 1952.7 48.1C1949.4 48.2 1946.1 48.3 1942.7 48.4C1939.4 48.5 1936.0 48.6 1932.7 48.7C1929.4 48.8 1926.0 48.8 1922.7 48.9C1919.3 49.0 1916.0 49.1 1912.7 49.2C1909.3 49.3 1906.0 49.4 1902.6 49.5C1899.3 49.6 1896.0 49.7 1892.6 49.8C1889.3 49.9 1885.9 50.0 1882.6 50.1C1879.3 50.2 1875.9 50.3 1872.6 50.4C1869.2 50.5 1865.9 50.6 1862.6 50.7C1859.2 50.8 1855.9 50.9 1852.5 51.0C1849.2 51.1 1845.9 51.1 1842.5 51.2C1839.2 51.3 1835.8 51.4 1832.5 51.5C1829.2 51.6 1825.8 51.6 1822.5 51.7C1819.1 51.8 1815.8 51.8 1812.4 51.9C1809.1 52.0 1805.8 52.0 1802.4 52.1C1799.1 52.1 1795.7 52.2 1792.4 52.2C1789.1 52.3 1785.7 52.3 1782.4 52.4C1779.0 52.4 1775.7 52.4 1772.3 52.5C1769.0 52.5 1765.7 52.5 1762.3 52.5C1759.0 52.6 1755.6 52.6 1752.3 52.6C1749.0 52.6 1745.6 52.6 1742.3 52.6C1738.9 52.6 1735.6 52.5 1732.2 52.5C1728.9 52.5 1725.5 52.5 1722.2 52.4C1718.9 52.4 1715.5 52.4 1712.2 52.3C1708.8 52.2 1705.5 52.2 1702.1 52.1C1698.8 52.1 1695.4 52.0 1692.1 52.0C1688.8 51.9 1685.4 51.9 1682.1 51.8C1678.7 51.8 1675.4 51.7 1672.1 51.7C1668.7 51.7 1665.4 51.7 1662.0 51.7C1658.7 51.8 1655.4 51.8 1652.0 51.9C1648.7 51.9 1645.4 52.0 1642.0 52.1C1638.7 52.3 1635.4 52.4 1632.1 52.6C1628.7 52.8 1625.4 53.0 1622.1 53.3C1618.8 53.5 1615.5 53.8 1612.2 54.2C1608.8 54.5 1605.5 54.9 1602.2 55.4C1598.9 55.8 1595.6 56.3 1592.3 56.9C1589.0 57.4 1585.7 58.0 1582.4 58.7C1579.1 59.4 1575.9 60.1 1572.6 60.9C1569.3 61.7 1566.0 62.6 1562.8 63.5C1559.5 64.4 1556.2 65.4 1553.0 66.5C1549.8 67.6 1546.6 68.8 1543.4 70.1C1540.3 71.3 1537.2 72.7 1534.2 74.2C1531.1 75.6 1528.2 77.2 1525.3 78.9C1522.5 80.6 1519.7 82.4 1517.0 84.3C1514.3 86.2 1511.8 88.2 1509.3 90.4C1506.9 92.6 1504.6 94.9 1502.4 97.3C1500.2 99.7 1498.1 102.2 1496.1 104.9C1494.2 107.5 1492.3 110.3 1490.5 113.1C1488.7 115.9 1487.0 118.8 1485.4 121.7C1483.8 124.6 1482.2 127.6 1480.7 130.6C1479.2 133.7 1477.7 136.7 1476.3 139.8C1474.9 142.8 1473.5 145.9 1472.1 149.0C1470.7 152.1 1469.4 155.2 1468.1 158.3C1466.8 161.4 1465.5 164.5 1464.3 167.6C1463.0 170.7 1461.8 173.8 1460.6 177.0C1459.4 180.1 1458.3 183.2 1457.1 186.4C1456.0 189.5 1454.9 192.7 1453.8 195.9C1452.7 199.0 1451.6 202.2 1450.6 205.4C1449.5 208.5 1448.5 211.7 1447.5 214.9C1446.5 218.1 1445.5 221.3 1444.5 224.5C1443.6 227.7 1442.6 230.9 1441.7 234.1C1440.7 237.3 1439.8 240.5 1438.9 243.7C1438.0 246.9 1437.1 250.1 1436.2 253.3C1435.3 256.6 1434.5 259.8 1433.6 263.0C1432.7 266.2 1431.9 269.5 1431.0 272.7C1430.2 275.9 1429.4 279.2 1428.5 282.4C1427.7 285.6 1426.9 288.9 1426.1 292.1C1425.3 295.3 1424.4 298.6 1423.6 301.8C1422.8 305.1 1422.0 308.3 1421.2 311.5C1420.4 314.8 1419.6 318.0 1418.8 321.3C1418.0 324.5 1417.2 327.7 1416.4 331.0C1415.6 334.2 1414.8 337.4 1413.9 340.7C1413.1 343.9 1412.3 347.1 1411.5 350.4C1410.7 353.6 1409.8 356.8 1409.0 360.1C1408.1 363.3 1407.3 366.5 1406.4 369.7C1405.6 373.0 1404.7 376.2 1403.8 379.4C1403.0 382.6 1402.1 385.8 1401.2 389.0C1400.3 392.2 1399.3 395.4 1398.4 398.6C1397.5 401.8 1396.5 405.0 1395.6 408.2C1394.6 411.4 1393.6 414.6 1392.6 417.8C1391.6 421.0 1390.6 424.1 1389.6 427.3C1388.5 430.5 1387.5 433.6 1386.4 436.8C1385.3 439.9 1384.2 443.1 1383.0 446.2C1381.9 449.3 1380.7 452.5 1379.5 455.6C1378.3 458.7 1377.1 461.8 1375.8 465.0C1374.5 468.1 1373.2 471.2 1371.8 474.3C1370.5 477.4 1369.1 480.4 1367.6 483.5C1366.2 486.6 1364.7 489.7 1363.1 492.7C1361.6 495.8 1360.0 498.9 1358.3 501.9C1356.6 504.9 1354.9 507.8 1352.7 510.1C1350.5 512.3 1347.8 513.9 1344.8 514.5C1341.8 515.1 1338.8 514.6 1335.8 513.4C1332.9 512.2 1330.0 510.3 1327.3 508.2C1324.5 506.0 1321.9 503.6 1319.4 501.2C1316.9 498.8 1314.4 496.4 1312.1 493.9C1309.8 491.4 1307.5 488.9 1305.3 486.3C1303.1 483.8 1300.9 481.2 1298.8 478.6C1296.7 476.0 1294.6 473.4 1292.5 470.9C1290.4 468.3 1288.2 465.7 1286.1 463.2C1284.0 460.6 1281.8 458.1 1279.6 455.6C1277.4 453.2 1275.2 450.7 1272.9 448.3C1270.6 445.9 1268.3 443.5 1265.9 441.2C1263.5 438.8 1261.1 436.5 1258.7 434.2C1256.3 432.0 1253.8 429.7 1251.3 427.5C1248.8 425.3 1246.3 423.1 1243.7 421.0C1241.1 418.9 1238.5 416.8 1235.9 414.7C1233.3 412.7 1230.6 410.7 1227.9 408.7C1225.2 406.7 1222.5 404.8 1219.7 402.9C1217.0 401.0 1214.2 399.1 1211.4 397.3C1208.6 395.5 1205.8 393.7 1202.9 391.9C1200.0 390.2 1197.2 388.5 1194.3 386.8C1191.4 385.2 1188.4 383.6 1185.5 382.0C1182.5 380.4 1179.5 378.9 1176.6 377.4C1173.6 375.9 1170.5 374.5 1167.5 373.1C1164.5 371.7 1161.4 370.3 1158.3 369.0C1155.3 367.7 1152.2 366.4 1149.1 365.2C1146.0 363.9 1142.8 362.8 1139.7 361.6C1136.6 360.5 1133.4 359.4 1130.2 358.4C1127.1 357.3 1123.9 356.3 1120.7 355.4C1117.5 354.4 1114.3 353.5 1111.1 352.7C1107.9 351.8 1104.6 351.0 1101.4 350.2C1098.1 349.4 1094.9 348.7 1091.6 348.0C1088.4 347.3 1085.1 346.7 1081.8 346.1C1078.5 345.5 1075.3 344.9 1072.0 344.4C1068.7 343.8 1065.4 343.4 1062.0 342.9C1058.7 342.5 1055.4 342.0 1052.1 341.7C1048.8 341.3 1045.4 341.0 1042.1 340.7C1038.8 340.4 1035.4 340.1 1032.1 339.9C1028.7 339.6 1025.4 339.4 1022.0 339.3C1018.7 339.1 1015.3 339.0 1012.0 338.9C1008.6 338.8 1005.3 338.7 1001.9 338.7C998.6 338.7 995.2 338.7 991.9 338.7C988.5 338.7 985.1 338.8 981.8 338.9C978.4 339.0 975.1 339.1 971.7 339.3C968.4 339.4 965.0 339.6 961.7 339.8C958.3 340.0 955.0 340.2 951.6 340.5C948.3 340.8 945.0 341.1 941.6 341.4C938.3 341.7 935.0 342.1 931.7 342.5C928.4 342.9 925.0 343.3 921.7 343.8C918.4 344.3 915.2 344.8 911.9 345.4C908.6 345.9 905.3 346.5 902.1 347.2C898.8 347.8 895.5 348.5 892.3 349.3C889.1 350.0 885.8 350.8 882.6 351.6C879.4 352.5 876.2 353.3 873.0 354.3C869.9 355.2 866.7 356.2 863.5 357.2C860.4 358.3 857.3 359.4 854.1 360.5C851.0 361.7 847.9 362.9 844.8 364.1C841.8 365.4 838.7 366.7 835.7 368.1C832.6 369.5 829.6 370.9 826.6 372.4C823.6 373.9 820.6 375.5 817.7 377.1C814.7 378.7 811.8 380.3 808.9 382.0C806.0 383.7 803.1 385.5 800.3 387.3C797.4 389.1 794.6 390.9 791.8 392.8C789.1 394.7 786.3 396.6 783.6 398.6C780.9 400.5 778.2 402.5 775.5 404.6C772.8 406.6 770.2 408.7 767.6 410.8C765.0 413.0 762.5 415.1 760.0 417.3C757.4 419.5 755.0 421.7 752.5 424.0C750.0 426.2 747.6 428.5 745.2 430.9C742.9 433.2 740.5 435.5 738.2 437.9C735.9 440.3 733.6 442.7 731.3 445.2C729.1 447.6 726.9 450.1 724.7 452.6C722.5 455.1 720.3 457.6 718.2 460.2C716.1 462.8 714.0 465.3 711.9 468.0C709.8 470.6 707.8 473.2 705.8 475.8C703.8 478.5 701.8 481.2 699.8 483.9C697.9 486.6 696.0 489.3 694.1 492.0C692.2 494.8 690.3 497.6 688.4 500.3C686.6 503.1 684.8 505.9 683.0 508.7C681.2 511.6 679.4 514.4 677.7 517.3C676.0 520.1 674.3 523.0 672.6 525.9C670.9 528.7 669.2 531.6 667.6 534.6C665.9 537.5 664.3 540.4 662.7 543.3C661.1 546.3 659.6 549.2 658.0 552.2C656.5 555.2 654.9 558.1 653.4 561.1C651.9 564.1 650.5 567.1 649.0 570.1C647.5 573.1 646.1 576.1 644.7 579.2C643.3 582.2 641.9 585.2 640.5 588.3C639.1 591.3 637.8 594.4 636.4 597.5C635.1 600.5 633.8 603.6 632.5 606.7C631.2 609.8 629.9 612.9 628.7 615.9C627.4 619.0 626.2 622.1 624.9 625.3C623.7 628.4 622.5 631.5 621.3 634.6C620.1 637.7 619.0 640.8 617.8 644.0C616.7 647.1 615.5 650.2 614.4 653.4C613.3 656.5 612.2 659.7 611.1 662.8C610.0 666.0 608.9 669.1 607.9 672.3C606.8 675.4 605.8 678.6 604.8 681.8C603.7 685.0 602.7 688.1 601.7 691.3C600.7 694.5 599.8 697.7 598.8 700.9C597.8 704.1 596.9 707.3 595.9 710.5C595.0 713.7 594.1 716.9 593.2 720.1C592.2 723.3 591.3 726.5 590.5 729.7C589.6 732.9 588.7 736.1 587.8 739.4C587.0 742.6 586.1 745.8 585.3 749.0C584.4 752.3 583.6 755.5 582.8 758.7C582.0 762.0 581.2 765.2 580.4 768.5C579.6 771.7 578.8 774.9 578.0 778.2C577.3 781.4 576.5 784.7 575.8 788.0C575.0 791.2 574.3 794.5 573.5 797.7C572.8 801.0 572.1 804.3 571.4 807.5C570.6 810.8 569.9 814.0 569.2 817.3C568.5 820.6 567.8 823.9 567.2 827.1C566.5 830.4 565.8 833.7 565.1 837.0C564.5 840.2 563.8 843.5 563.2 846.8C562.5 850.1 561.9 853.4 561.2 856.7C560.6 859.9 559.9 863.2 559.3 866.5C558.7 869.8 558.1 873.1 557.5 876.4C556.8 879.7 556.2 883.0 555.6 886.2C555.0 889.5 554.4 892.8 553.8 896.1C553.2 899.4 552.6 902.7 552.0 906.0C551.5 909.3 550.9 912.6 550.3 915.9C549.7 919.2 549.1 922.5 548.6 925.8C548.0 929.1 547.4 932.4 546.8 935.7C546.3 939.0 545.7 942.3 545.2 945.6C544.6 948.9 544.0 952.1 543.5 955.4C542.9 958.7 542.4 962.0 541.8 965.3C541.2 968.6 540.7 971.9 540.1 975.2C539.6 978.5 539.0 981.8 538.5 985.1C537.9 988.4 537.4 991.7 536.9 995.0C536.3 998.3 535.8 1001.6 535.3 1004.9C534.7 1008.2 534.2 1011.4 533.7 1014.7C533.1 1018.0 532.6 1021.3 532.1 1024.6C531.6 1027.9 531.1 1031.2 530.6 1034.5C530.0 1037.8 529.5 1041.1 529.0 1044.4C528.5 1047.7 528.0 1051.0 527.5 1054.3C527.0 1057.6 526.6 1060.9 526.1 1064.2C525.6 1067.5 525.1 1070.8 524.6 1074.1C524.2 1077.4 523.7 1080.7 523.2 1084.0C522.8 1087.3 522.3 1090.6 521.8 1093.9C521.4 1097.2 520.9 1100.5 520.5 1103.8C520.1 1107.1 519.6 1110.4 519.2 1113.7C518.8 1117.0 518.3 1120.3 517.9 1123.7C517.5 1127.0 517.1 1130.3 516.7 1133.6C516.3 1136.9 515.9 1140.2 515.5 1143.5C515.1 1146.8 514.7 1150.2 514.3 1153.5C514.0 1156.8 513.6 1160.1 513.2 1163.4C512.9 1166.7 512.5 1170.1 512.2 1173.4C511.8 1176.7 511.5 1180.0 511.1 1183.4C510.8 1186.7 510.5 1190.0 510.2 1193.3C509.8 1196.7 509.5 1200.0 509.2 1203.3C508.9 1206.7 508.6 1210.0 508.4 1213.3C508.1 1216.7 507.8 1220.0 507.5 1223.3C507.2 1226.7 507.0 1230.0 506.7 1233.3C506.4 1236.7 506.1 1240.0 505.9 1243.4C505.6 1246.7 505.3 1250.0 505.0 1253.4C504.8 1256.7 504.5 1260.0 504.2 1263.4C503.9 1266.7 503.6 1270.1 503.4 1273.4C503.1 1276.7 502.8 1280.1 502.4 1283.4C502.1 1286.7 501.8 1290.0 501.5 1293.4C501.2 1296.7 500.8 1300.0 500.5 1303.3C500.1 1306.7 499.8 1310.0 499.4 1313.3C499.0 1316.6 498.6 1319.9 498.2 1323.2C497.8 1326.6 497.4 1329.9 496.9 1333.2C496.5 1336.5 496.0 1339.8 495.5 1343.1C495.0 1346.4 494.5 1349.7 494.0 1352.9" fill="none" stroke="#009640" stroke-width="6.1" stroke-linejoin="round"/>
<path d="M481.7 1353.0C482.0 1349.6 482.3 1346.3 482.5 1343.0C482.8 1339.7 483.1 1336.3 483.4 1333.0C483.7 1329.7 484.0 1326.4 484.3 1323.0C484.6 1319.7 484.9 1316.4 485.2 1313.1C485.5 1309.7 485.8 1306.4 486.1 1303.1C486.5 1299.8 486.8 1296.4 487.1 1293.1C487.5 1289.8 487.8 1286.5 488.1 1283.2C488.5 1279.8 488.8 1276.5 489.2 1273.2C489.6 1269.9 489.9 1266.5 490.3 1263.2C490.6 1259.9 491.0 1256.6 491.4 1253.3C491.8 1249.9 492.1 1246.6 492.5 1243.3C492.9 1240.0 493.3 1236.7 493.7 1233.3C494.1 1230.0 494.5 1226.7 494.9 1223.4C495.3 1220.1 495.7 1216.8 496.2 1213.4C496.6 1210.1 497.0 1206.8 497.4 1203.5C497.9 1200.2 498.3 1196.9 498.7 1193.5C499.2 1190.2 499.6 1186.9 500.1 1183.6C500.5 1180.3 501.0 1177.0 501.4 1173.7C501.9 1170.4 502.4 1167.0 502.8 1163.7C503.3 1160.4 503.8 1157.1 504.3 1153.8C504.8 1150.5 505.2 1147.2 505.7 1143.9C506.2 1140.6 506.7 1137.3 507.2 1134.0C507.7 1130.7 508.2 1127.4 508.7 1124.1C509.3 1120.8 509.8 1117.5 510.3 1114.2C510.8 1110.9 511.3 1107.6 511.9 1104.3C512.4 1101.0 512.9 1097.7 513.5 1094.4C514.0 1091.1 514.6 1087.8 515.1 1084.5C515.7 1081.2 516.2 1077.9 516.8 1074.6C517.4 1071.3 517.9 1068.0 518.5 1064.7C519.1 1061.4 519.7 1058.1 520.2 1054.8C520.8 1051.6 521.4 1048.3 522.0 1045.0C522.6 1041.7 523.2 1038.4 523.8 1035.1C524.4 1031.8 525.0 1028.6 525.6 1025.3C526.2 1022.0 526.8 1018.7 527.4 1015.4C528.1 1012.1 528.7 1008.9 529.3 1005.6C529.9 1002.3 530.5 999.0 531.2 995.7C531.8 992.5 532.4 989.2 533.1 985.9C533.7 982.6 534.3 979.4 535.0 976.1C535.6 972.8 536.3 969.5 536.9 966.3C537.5 963.0 538.2 959.7 538.8 956.4C539.5 953.2 540.1 949.9 540.8 946.6C541.4 943.3 542.1 940.0 542.7 936.8C543.4 933.5 544.0 930.2 544.7 926.9C545.3 923.7 546.0 920.4 546.6 917.1C547.3 913.8 547.9 910.6 548.6 907.3C549.2 904.0 549.9 900.7 550.5 897.5C551.2 894.2 551.8 890.9 552.5 887.6C553.1 884.3 553.7 881.1 554.4 877.8C555.0 874.5 555.7 871.2 556.3 868.0C557.0 864.7 557.7 861.4 558.3 858.1C559.0 854.8 559.6 851.6 560.3 848.3C561.0 845.0 561.6 841.7 562.3 838.5C563.0 835.2 563.6 831.9 564.3 828.7C565.0 825.4 565.7 822.1 566.4 818.8C567.1 815.6 567.8 812.3 568.5 809.0C569.2 805.8 569.9 802.5 570.7 799.3C571.4 796.0 572.1 792.7 572.9 789.5C573.6 786.2 574.4 783.0 575.1 779.7C575.9 776.4 576.7 773.2 577.5 770.0C578.3 766.7 579.1 763.5 579.9 760.2C580.7 757.0 581.5 753.7 582.3 750.5C583.2 747.3 584.0 744.0 584.9 740.8C585.7 737.6 586.6 734.3 587.5 731.1C588.3 727.9 589.2 724.7 590.1 721.5C591.1 718.2 592.0 715.0 592.9 711.8C593.8 708.6 594.8 705.4 595.8 702.2C596.7 699.0 597.7 695.8 598.7 692.6C599.7 689.5 600.7 686.3 601.7 683.1C602.7 679.9 603.7 676.7 604.8 673.6C605.8 670.4 606.9 667.2 608.0 664.1C609.1 660.9 610.2 657.8 611.3 654.6C612.4 651.5 613.5 648.3 614.7 645.2C615.8 642.1 617.0 639.0 618.2 635.8C619.3 632.7 620.5 629.6 621.7 626.5C623.0 623.4 624.2 620.3 625.4 617.2C626.7 614.1 628.0 611.0 629.2 607.9C630.5 604.9 631.8 601.8 633.2 598.7C634.5 595.7 635.8 592.6 637.2 589.5C638.5 586.5 639.9 583.5 641.3 580.4C642.7 577.4 644.1 574.4 645.6 571.3C647.0 568.3 648.5 565.3 650.0 562.3C651.5 559.3 653.0 556.3 654.5 553.3C656.0 550.4 657.5 547.4 659.1 544.4C660.7 541.5 662.3 538.5 663.9 535.6C665.5 532.6 667.1 529.7 668.8 526.8C670.5 523.9 672.2 521.0 673.9 518.1C675.6 515.2 677.3 512.4 679.1 509.5C680.9 506.7 682.7 503.9 684.5 501.1C686.3 498.3 688.2 495.5 690.1 492.7C691.9 490.0 693.9 487.2 695.8 484.5C697.8 481.8 699.8 479.1 701.8 476.4C703.8 473.8 705.8 471.1 707.9 468.5C710.0 465.9 712.1 463.3 714.2 460.8C716.4 458.2 718.6 455.7 720.8 453.2C723.0 450.7 725.2 448.2 727.5 445.8C729.7 443.3 732.0 440.9 734.4 438.5C736.7 436.2 739.0 433.8 741.4 431.5C743.8 429.1 746.2 426.8 748.6 424.6C751.1 422.3 753.5 420.1 756.0 417.8C758.5 415.6 761.0 413.4 763.5 411.3C766.1 409.1 768.6 407.0 771.2 404.9C773.8 402.9 776.4 400.8 779.0 398.8C781.7 396.7 784.3 394.7 787.0 392.8C789.7 390.8 792.4 388.8 795.1 386.9C797.8 385.0 800.5 383.1 803.3 381.2C806.1 379.4 808.8 377.5 811.6 375.7C814.4 373.9 817.2 372.1 820.0 370.3C822.9 368.5 825.7 366.7 828.6 365.0C831.4 363.3 834.3 361.6 837.2 359.9C840.1 358.2 843.0 356.5 845.9 354.8C848.8 353.2 851.7 351.5 854.6 349.9C857.6 348.3 860.5 346.7 863.5 345.1C866.4 343.5 869.4 341.9 872.3 340.3C875.3 338.8 878.3 337.2 881.3 335.7C884.3 334.2 887.3 332.6 890.3 331.1C893.3 329.6 896.3 328.1 899.3 326.6C902.3 325.1 905.3 323.6 908.3 322.2C911.3 320.7 914.4 319.2 917.4 317.8C920.4 316.3 923.4 314.8 926.4 313.4C929.5 311.9 932.5 310.5 935.5 309.1C938.5 307.6 941.6 306.2 944.6 304.8C947.6 303.3 950.7 301.9 953.7 300.5C956.7 299.1 959.7 297.7 962.8 296.3C965.8 294.9 968.9 293.5 971.9 292.2C974.9 290.8 978.0 289.4 981.0 288.1C984.1 286.7 987.1 285.4 990.2 284.1C993.2 282.7 996.3 281.4 999.3 280.1C1002.4 278.8 1005.5 277.5 1008.5 276.3C1011.6 275.0 1014.7 273.7 1017.8 272.5C1020.8 271.2 1023.9 270.0 1027.0 268.8C1030.1 267.6 1033.2 266.4 1036.3 265.2C1039.4 264.1 1042.6 262.9 1045.7 261.8C1048.8 260.6 1051.9 259.5 1055.1 258.4C1058.2 257.3 1061.4 256.3 1064.5 255.2C1067.7 254.2 1070.8 253.1 1074.0 252.1C1077.2 251.1 1080.4 250.1 1083.6 249.2C1086.7 248.2 1090.0 247.3 1093.2 246.3C1096.4 245.4 1099.6 244.5 1102.8 243.7C1106.1 242.8 1109.3 241.9 1112.5 241.1C1115.8 240.2 1119.0 239.4 1122.3 238.6C1125.5 237.7 1128.8 236.9 1132.0 236.1C1135.3 235.3 1138.6 234.5 1141.8 233.8C1145.1 233.0 1148.4 232.2 1151.6 231.4C1154.9 230.6 1158.2 229.9 1161.4 229.1C1164.7 228.3 1168.0 227.5 1171.3 226.8C1174.5 226.0 1177.8 225.2 1181.1 224.4C1184.3 223.6 1187.6 222.8 1190.8 222.0C1194.1 221.2 1197.4 220.4 1200.6 219.6C1203.9 218.7 1207.1 217.9 1210.3 217.1C1213.6 216.2 1216.8 215.3 1220.0 214.5C1223.3 213.6 1226.5 212.7 1229.7 211.7C1232.9 210.8 1236.1 209.9 1239.3 208.9C1242.5 207.9 1245.7 206.9 1248.8 205.9C1252.0 204.9 1255.2 203.9 1258.3 202.8C1261.5 201.7 1264.6 200.6 1267.8 199.5C1270.9 198.4 1274.0 197.3 1277.1 196.1C1280.2 194.9 1283.3 193.8 1286.4 192.5C1289.5 191.3 1292.6 190.1 1295.7 188.8C1298.7 187.5 1301.8 186.2 1304.8 184.9C1307.9 183.6 1310.9 182.2 1314.0 180.8C1317.0 179.4 1320.0 178.0 1323.0 176.6C1326.0 175.1 1329.0 173.6 1332.0 172.1C1334.9 170.6 1337.9 169.1 1340.8 167.5C1343.8 165.9 1346.7 164.4 1349.7 162.7C1352.6 161.1 1355.5 159.5 1358.5 157.9C1361.4 156.2 1364.3 154.6 1367.2 152.9C1370.1 151.3 1373.1 149.6 1376.0 147.9C1378.9 146.3 1381.8 144.6 1384.7 142.9C1387.6 141.3 1390.6 139.6 1393.5 138.0C1396.4 136.4 1399.4 134.8 1402.3 133.2C1405.3 131.6 1408.2 130.0 1411.2 128.4C1414.1 126.9 1417.1 125.4 1420.1 123.9C1423.1 122.4 1426.1 121.0 1429.1 119.5C1432.1 118.1 1435.1 116.8 1438.2 115.4C1441.2 114.1 1444.3 112.8 1447.4 111.6C1450.5 110.3 1453.6 109.1 1456.7 108.0C1459.8 106.8 1462.9 105.7 1466.1 104.6C1469.2 103.5 1472.4 102.4 1475.5 101.4C1478.7 100.4 1481.9 99.4 1485.1 98.4C1488.3 97.5 1491.5 96.6 1494.7 95.7C1497.9 94.8 1501.1 93.9 1504.3 93.1C1507.6 92.2 1510.8 91.4 1514.0 90.6C1517.3 89.8 1520.5 89.1 1523.8 88.3C1527.1 87.6 1530.3 86.9 1533.6 86.2C1536.9 85.5 1540.2 84.8 1543.4 84.2C1546.7 83.5 1550.0 82.9 1553.3 82.2C1556.6 81.6 1559.9 81.0 1563.2 80.4C1566.5 79.8 1569.7 79.3 1573.0 78.7C1576.3 78.1 1579.6 77.6 1582.9 77.0C1586.2 76.5 1589.5 76.0 1592.8 75.5C1596.1 75.0 1599.4 74.5 1602.8 74.0C1606.1 73.5 1609.4 73.0 1612.7 72.5C1616.0 72.1 1619.3 71.6 1622.6 71.2C1625.9 70.8 1629.2 70.3 1632.5 69.9C1635.9 69.5 1639.2 69.1 1642.5 68.7C1645.8 68.3 1649.1 67.9 1652.4 67.5C1655.8 67.2 1659.1 66.8 1662.4 66.5C1665.7 66.1 1669.0 65.8 1672.4 65.4C1675.7 65.1 1679.0 64.8 1682.3 64.5C1685.7 64.1 1689.0 63.8 1692.3 63.5C1695.6 63.2 1699.0 63.0 1702.3 62.7C1705.6 62.4 1708.9 62.1 1712.3 61.9C1715.6 61.6 1718.9 61.4 1722.3 61.1C1725.6 60.9 1728.9 60.6 1732.3 60.4C1735.6 60.2 1738.9 60.0 1742.3 59.8C1745.6 59.5 1748.9 59.3 1752.3 59.1C1755.6 58.9 1759.0 58.7 1762.3 58.6C1765.6 58.4 1769.0 58.2 1772.3 58.0C1775.6 57.8 1779.0 57.7 1782.3 57.5C1785.7 57.4 1789.0 57.2 1792.3 57.0C1795.7 56.9 1799.0 56.8 1802.4 56.6C1805.7 56.5 1809.1 56.3 1812.4 56.2C1815.7 56.1 1819.1 56.0 1822.4 55.8C1825.8 55.7 1829.1 55.6 1832.5 55.5C1835.8 55.4 1839.1 55.3 1842.5 55.2C1845.8 55.1 1849.2 54.9 1852.5 54.9C1855.9 54.8 1859.2 54.7 1862.6 54.6C1865.9 54.5 1869.2 54.4 1872.6 54.3C1875.9 54.2 1879.3 54.1 1882.6 54.0C1886.0 54.0 1889.3 53.9 1892.7 53.8C1896.0 53.7 1899.4 53.7 1902.7 53.6C1906.0 53.5 1909.4 53.4 1912.7 53.4C1916.1 53.3 1919.4 53.2 1922.8 53.2C1926.1 53.1 1929.5 53.0 1932.8 52.9C1936.1 52.9 1939.5 52.8 1942.8 52.7C1946.2 52.7 1949.5 52.6 1952.9 52.5C1956.2 52.5 1959.5 52.4 1962.9 52.3C1966.2 52.3 1969.6 52.2 1972.9 52.1C1976.3 52.0 1979.6 52.0 1982.9 51.9C1986.3 51.8 1989.6 51.8 1993.0 51.7C1996.3 51.6 1999.6 51.5 2003.0 51.4C2006.3 51.4 2009.6 51.3 2013.0 51.2C2016.3 51.1 2019.7 51.0 2023.0 50.9C2026.3 50.8 2029.7 50.7 2033.0 50.6C2036.3 50.6 2039.7 50.5 2043.0 50.3C2046.3 50.2 2049.7 50.1 2053.0 50.0C2056.3 49.9 2059.7 49.8 2063.0 49.7C2066.3 49.6 2069.6 49.4 2073.0 49.3C2076.3 49.2 2079.6 49.1 2083.0 48.9" fill="none" stroke="#009640" stroke-width="6.1" stroke-linejoin="round"/>
</g>
<polygon points="1495.5,213.8 1500.5,248.8 1529.0,226.5" fill="#110c0f"/>
<polygon points="1802.0,393.0 1837.0,396.0 1815.3,427.0" fill="#110c0f"/>
<polygon points="1510.5,275.0 1533.8,303.8 1551.8,269.5" fill="#3d2681"/>
<polygon points="1710.5,358.0 1747.2,362.0 1725.3,390.5" fill="#3d2681"/>
<polygon points="1044.0,242.0 1058.0,276.0 1083.0,250.8" fill="#009640"/>
<polygon points="1405.5,283.8 1441.8,291.2 1418.7,325.0" fill="#009640"/>
<g stroke="#110c0f" stroke-width="8" fill="none">
<path d="M322.2 44V1380.5"/>
<path d="M293 1351H2099"/>
<path d="M293 48.0H322"/>
<path d="M293 308.6H322"/>
<path d="M293 569.2H322"/>
<path d="M293 829.8H322"/>
<path d="M293 1090.4H322"/>
<path d="M575.5 1351V1380.5"/>
<path d="M828.7 1351V1380.5"/>
<path d="M1082.0 1351V1380.5"/>
<path d="M1335.2 1351V1380.5"/>
<path d="M1588.5 1351V1380.5"/>
<path d="M1841.7 1351V1380.5"/>
<path d="M2095.0 1351V1380.5"/>
</g>
<g stroke="#110c0f" stroke-width="7" fill="none">
<path d="M305 178.3H322"/>
<path d="M305 438.9H322"/>
<path d="M305 699.5H322"/>
<path d="M305 960.1H322"/>
<path d="M305 1220.7H322"/>
<path d="M385.5 1351V1368.5"/>
<path d="M448.8 1351V1368.5"/>
<path d="M512.1 1351V1368.5"/>
<path d="M638.8 1351V1368.5"/>
<path d="M702.1 1351V1368.5"/>
<path d="M765.4 1351V1368.5"/>
<path d="M892.0 1351V1368.5"/>
<path d="M955.3 1351V1368.5"/>
<path d="M1018.7 1351V1368.5"/>
<path d="M1145.3 1351V1368.5"/>
<path d="M1208.6 1351V1368.5"/>
<path d="M1271.9 1351V1368.5"/>
<path d="M1398.5 1351V1368.5"/>
<path d="M1461.9 1351V1368.5"/>
<path d="M1525.2 1351V1368.5"/>
<path d="M1651.8 1351V1368.5"/>
<path d="M1715.1 1351V1368.5"/>
<path d="M1778.4 1351V1368.5"/>
<path d="M1905.1 1351V1368.5"/>
<path d="M1968.4 1351V1368.5"/>
<path d="M2031.7 1351V1368.5"/>
</g>
<text class="t" x="283" y="76.0" text-anchor="end">0</text>
<text class="t" x="283" y="336.6" text-anchor="end">-0.3</text>
<text class="t" x="283" y="597.2" text-anchor="end">-0.6</text>
<text class="t" x="283" y="857.8" text-anchor="end">-0.9</text>
<text class="t" x="283" y="1118.4" text-anchor="end">-1.2</text>
<text class="t" x="283" y="1379.0" text-anchor="end">-1.5</text>
<text class="t" x="324.2" y="1452.7" text-anchor="middle">-1.4</text>
<text class="t" x="577.5" y="1452.7" text-anchor="middle">-1.2</text>
<text class="t" x="830.7" y="1452.7" text-anchor="middle">-1.0</text>
<text class="t" x="1085.5" y="1452.7" text-anchor="middle">-0.8</text>
<text class="t" x="1338.7" y="1452.7" text-anchor="middle">-0.6</text>
<text class="t" x="1592.0" y="1452.7" text-anchor="middle">-0.4</text>
<text class="t" x="1845.2" y="1452.7" text-anchor="middle">-0.2</text>
<text class="t" x="2099.0" y="1452.7" text-anchor="middle">0</text>
<text class="t" x="917.5" y="1564.6" letter-spacing="-0.47"><tspan class="bi">E</tspan> / V vs. Ag/AgCl</text>
<text class="t" transform="translate(77.6,873.5) rotate(-90)"><tspan class="bi">j</tspan> / mA cm<tspan font-size="40" dy="-40">-2</tspan></text>
<text class="b" font-size="78" x="1237.0" y="642.5">R1</text>
<text class="b" font-size="78" x="1857.0" y="591.2">R1</text>
<text class="b" font-size="78" x="1649.5" y="780.0">R1</text>
<text class="bi" font-size="78" x="984" y="710.6">b</text>
<text class="bi" font-size="78" x="640" y="1228.5">c</text>
<text class="bi" font-size="78" x="1458" y="1228">a</text>
<g stroke="#151113" stroke-width="6" fill="none">
<path d="M1043.75 682H1114"/><path d="M551 1206.25H623"/><path d="M1370 1205.5H1441.25"/></g>
<polygon points="1112.0,667.5 1112.0,699.4 1138.8,683.0" fill="#151113"/>
<polygon points="552.5,1191.2 552.5,1223.0 525.0,1207.0" fill="#151113"/>
<polygon points="1371.2,1191.2 1371.2,1223.0 1343.8,1207.0" fill="#151113"/>
</svg></body></html>
